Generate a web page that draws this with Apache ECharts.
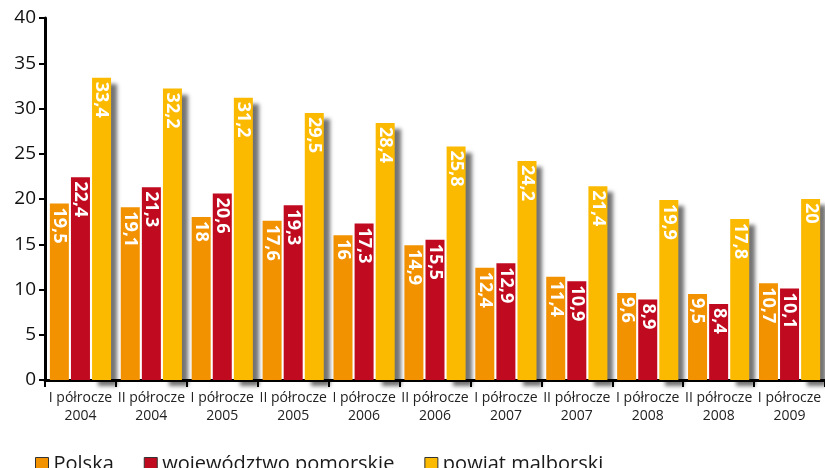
<!DOCTYPE html>
<html>
<head>
<meta charset="utf-8">
<script src="https://cdn.jsdelivr.net/npm/echarts@6/dist/echarts.min.js"></script>
<style>
html,body{margin:0;padding:0;background:#fff;}
#chart{width:825px;height:468px;}
</style>
</head>
<body>
<div id="chart"></div>
<script>
var categories = ['I półrocze\n2004','II półrocze\n2004','I półrocze\n2005','II półrocze\n2005','I półrocze\n2006','II półrocze\n2006','I półrocze\n2007','II półrocze\n2007','I półrocze\n2008','II półrocze\n2008','I półrocze\n2009'];
var polska = [19.5,19.1,18,17.6,16,14.9,12.4,11.4,9.6,9.5,10.7];
var pomorskie = [22.4,21.3,20.6,19.3,17.3,15.5,12.9,10.9,8.9,8.4,10.1];
var malborski = [33.4,32.2,31.2,29.5,28.4,25.8,24.2,21.4,19.9,17.8,20];
var seriesNames = ['Polska','województwo pomorskie','powiat malborski'];
var colors = ['#F39200','#C00A1F','#FBBA00'];
var yTicks = {min:0, max:40, interval:5};

var FONT = '"Open Sans", "Noto Sans", sans-serif';

function mkSeries(name, data, color, withShadow){
  var st = { color: color };
  if (withShadow) {
    st.shadowColor = 'rgba(0,0,0,0.55)';
    st.shadowBlur = 4;
    st.shadowOffsetX = 6;
    st.shadowOffsetY = 6;
  }
  return {
    name: name,
    type: 'bar',
    data: data,
    barWidth: 19,
    barGap: '11%',
    itemStyle: st,
    label: {
      show: true,
      position: 'insideTop',
      rotate: -90,
      align: 'left',
      verticalAlign: 'middle',
      distance: 4,
      color: '#ffffff',
      fontFamily: FONT,
      fontWeight: 'bold',
      fontSize: 18,
      formatter: function(p){ return String(p.value).replace('.', ','); }
    }
  };
}

var chart = echarts.init(document.getElementById('chart'));
chart.setOption({
  animation: false,
  textStyle: {fontFamily: FONT},
  grid: {left: 45, top: 18, right: -6, bottom: 88},
  legend: {
    left: 30,
    top: 449,
    itemWidth: 13,
    itemHeight: 13,
    itemGap: 30,
    icon: 'rect',
    itemStyle: {borderColor: '#333', borderWidth: 1, shadowBlur: 0, shadowOffsetX: 0, shadowOffsetY: 0},
    textStyle: {fontFamily: FONT, fontSize: 20, color: '#1a1a1a'},
    data: seriesNames
  },
  xAxis: {
    type: 'category',
    data: categories,
    axisLine: {lineStyle: {color: '#000', width: 3}},
    axisTick: {show: true, length: 7, lineStyle: {color: '#000', width: 2}},
    axisLabel: {fontFamily: FONT, fontSize: 14, color: '#222', lineHeight: 18, margin: 9, interval: 0}
  },
  yAxis: {
    type: 'value',
    min: yTicks.min, max: yTicks.max, interval: yTicks.interval,
    axisLine: {show: true, lineStyle: {color: '#000', width: 3}},
    axisTick: {show: true, length: 6, lineStyle: {color: '#000', width: 2}},
    splitLine: {show: false},
    axisLabel: {fontFamily: FONT, fontSize: 19, color: '#111', margin: 9}
  },
  series: [
    mkSeries(seriesNames[0], polska, colors[0], false),
    mkSeries(seriesNames[1], pomorskie, colors[1], false),
    mkSeries(seriesNames[2], malborski, colors[2], true)
  ]
});
</script>
</body>
</html>
